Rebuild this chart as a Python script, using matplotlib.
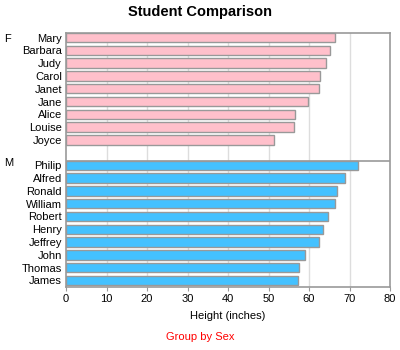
import matplotlib
matplotlib.use("Agg")
import matplotlib.pyplot as plt

plt.rcParams['font.family'] = ['Liberation Sans', 'DejaVu Sans']

# data: heights by sex, sorted descending within group
f_names = ["Mary", "Barbara", "Judy", "Carol", "Janet", "Jane", "Alice", "Louise", "Joyce"]
f_height = [66.5, 65.3, 64.3, 62.8, 62.5, 59.8, 56.5, 56.3, 51.3]
m_names = ["Philip", "Alfred", "Ronald", "William", "Robert", "Henry", "Jeffrey", "John", "Thomas", "James"]
m_height = [72.0, 69.0, 67.0, 66.5, 64.8, 63.5, 62.5, 59.0, 57.5, 57.3]
groups = ["F", "M"]
x_ticks = [0, 10, 20, 30, 40, 50, 60, 70, 80]

pink = "#FFC0CB"
blue = "#44C1FF"
edge = "#999999"
bw = 0.74

fig = plt.figure(figsize=(4, 3.5), dpi=100)
ax = fig.add_axes([0.165, 0.18, 0.81, 0.726])

f_pos = list(range(len(f_names)))
m_start = len(f_names) + 1
m_pos = [m_start + i for i in range(len(m_names))]

ax.barh(f_pos, f_height, height=bw, color=pink, edgecolor=edge, linewidth=1, zorder=3)
ax.barh(m_pos, m_height, height=bw, color=blue, edgecolor=edge, linewidth=1, zorder=3)

# separator between panels
ax.axhline(m_start - bw / 2, color=edge, linewidth=1.2, zorder=4)

ax.set_ylim(m_pos[-1] + bw / 2 + 0.15, -bw / 2)
ax.set_xlim(0, 80)
ax.set_xticks(x_ticks)
ax.set_yticks(f_pos + m_pos)
ax.set_yticklabels(f_names + m_names, fontsize=8)
ax.tick_params(axis='y', length=0, pad=3)
ax.tick_params(axis='x', labelsize=8, length=3, color=edge, pad=2)
for x in x_ticks[1:-1]:
    ax.axvline(x, color="#dddddd", linewidth=1, zorder=1)
for s in ax.spines.values():
    s.set_color(edge)
    s.set_linewidth(1.2)

ax.set_xlabel("Height (inches)", fontsize=8, labelpad=5)

# group labels
fig.text(4 / 400, 1 - 38.5 / 350, groups[0], fontsize=8, va='center', ha='left')
fig.text(4 / 400, 1 - 163.5 / 350, groups[1], fontsize=8, va='center', ha='left')

fig.text(0.5, 1 - 12 / 350, "Student Comparison", fontsize=10.5, fontweight='bold',
         ha='center', va='center')
fig.text(0.5, 1 - 337 / 350, "Group by Sex", fontsize=8, color='red', ha='center', va='center')

fig.savefig("out.png", dpi=100)
